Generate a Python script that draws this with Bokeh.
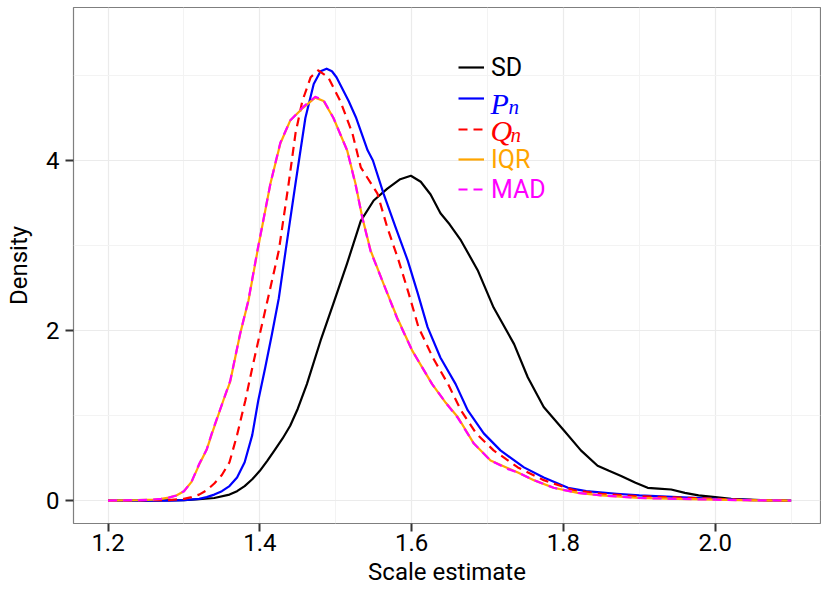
from bokeh.plotting import figure
from bokeh.models import (Range1d, FixedTicker, Legend, LegendItem, Label,
                          CustomJSTickFormatter)
from bokeh.embed import file_html
from bokeh.resources import INLINE

# ---------------- data ----------------
sd_x = [1.20, 1.25, 1.30, 1.32, 1.34, 1.36, 1.37, 1.38, 1.39, 1.40, 1.41,
        1.42, 1.43, 1.44, 1.45, 1.462, 1.48, 1.497, 1.515, 1.533, 1.55,
        1.568, 1.585, 1.599, 1.612, 1.625, 1.638, 1.65, 1.665, 1.687, 1.708,
        1.735, 1.753, 1.774, 1.801, 1.823, 1.845, 1.86, 1.876, 1.895, 1.911,
        1.925, 1.942, 1.96, 1.978, 2.00, 2.021, 2.06, 2.10]
sd_y = [0.0, 0.0, 0.005, 0.015, 0.03, 0.07, 0.11, 0.17, 0.25, 0.35, 0.47,
        0.60, 0.73, 0.88, 1.08, 1.37, 1.88, 2.32, 2.79, 3.29, 3.53,
        3.67, 3.78, 3.82, 3.75, 3.60, 3.38, 3.25, 3.06, 2.71, 2.27,
        1.84, 1.45, 1.10, 0.82, 0.59, 0.41, 0.35, 0.29, 0.21, 0.15,
        0.14, 0.13, 0.09, 0.06, 0.04, 0.02, 0.005, 0.0]

pn_x = [1.20, 1.28, 1.30, 1.32, 1.33, 1.34, 1.35, 1.36, 1.37, 1.38, 1.39,
        1.398, 1.407, 1.416, 1.425, 1.434, 1.447, 1.46, 1.471, 1.48, 1.488,
        1.495, 1.501, 1.517, 1.527, 1.542, 1.549, 1.563, 1.579, 1.595, 1.608,
        1.621, 1.638, 1.658, 1.674, 1.695, 1.717, 1.748, 1.774, 1.806, 1.83,
        1.87, 1.90, 1.95, 2.00, 2.05, 2.10]
pn_y = [0.0, 0.0, 0.005, 0.02, 0.04, 0.07, 0.11, 0.17, 0.27, 0.45, 0.77,
        1.18, 1.56, 1.96, 2.38, 2.94, 3.73, 4.50, 4.90, 5.05, 5.08,
        5.05, 4.98, 4.70, 4.50, 4.12, 4.00, 3.61, 3.21, 2.82, 2.44,
        2.04, 1.68, 1.37, 1.06, 0.79, 0.59, 0.39, 0.27, 0.15, 0.11,
        0.08, 0.06, 0.04, 0.02, 0.005, 0.0]

qn_x = [1.20, 1.28, 1.30, 1.31, 1.32, 1.33, 1.34, 1.35, 1.36, 1.37, 1.381,
        1.39, 1.40, 1.41, 1.425, 1.438, 1.447, 1.456, 1.467, 1.477, 1.49,
        1.506, 1.522, 1.533, 1.555, 1.568, 1.583, 1.596, 1.609, 1.628, 1.648,
        1.665, 1.685, 1.708, 1.74, 1.774, 1.814, 1.85, 1.90, 2.00, 2.05, 2.10]
qn_y = [0.0, 0.005, 0.02, 0.04, 0.07, 0.12, 0.20, 0.30, 0.45, 0.77, 1.18,
        1.56, 1.96, 2.35, 2.94, 3.73, 4.32, 4.70, 4.98, 5.06, 4.98,
        4.70, 4.32, 3.92, 3.61, 3.21, 2.82, 2.44, 2.04, 1.68, 1.37,
        1.06, 0.79, 0.59, 0.39, 0.24, 0.12, 0.08, 0.05, 0.02, 0.005, 0.0]

iqr_x = [1.20, 1.24, 1.26, 1.27, 1.28, 1.29, 1.30, 1.31, 1.32, 1.33, 1.337,
         1.352, 1.361, 1.374, 1.385, 1.397, 1.414, 1.427, 1.44, 1.457, 1.473,
         1.484, 1.497, 1.515, 1.526, 1.535, 1.546, 1.563, 1.581, 1.601, 1.627,
         1.645, 1.661, 1.682, 1.704, 1.727, 1.74, 1.761, 1.787, 1.819, 1.85,
         1.90, 1.95, 2.00, 2.05, 2.10]
iqr_y = [0.0, 0.005, 0.012, 0.02, 0.035, 0.06, 0.11, 0.22, 0.42, 0.60, 0.79,
         1.18, 1.40, 1.96, 2.35, 2.94, 3.73, 4.20, 4.47, 4.62, 4.74,
         4.70, 4.50, 4.12, 3.73, 3.33, 2.94, 2.55, 2.15, 1.76, 1.37,
         1.15, 0.98, 0.67, 0.47, 0.38, 0.33, 0.24, 0.15, 0.09, 0.06,
         0.03, 0.02, 0.01, 0.003, 0.0]

mad_x = [1.20, 1.24, 1.26, 1.27, 1.28, 1.29, 1.30, 1.31, 1.32, 1.33, 1.337,
         1.352, 1.361, 1.374, 1.385, 1.397, 1.414, 1.427, 1.44, 1.457, 1.473,
         1.484, 1.497, 1.515, 1.526, 1.535, 1.546, 1.563, 1.581, 1.601, 1.627,
         1.645, 1.661, 1.682, 1.704, 1.727, 1.74, 1.761, 1.787, 1.819, 1.85,
         1.90, 1.95, 2.00, 2.05, 2.10]
mad_y = [0.0, 0.005, 0.012, 0.02, 0.035, 0.06, 0.11, 0.22, 0.43, 0.60, 0.80,
         1.18, 1.41, 1.96, 2.36, 2.95, 3.73, 4.21, 4.47, 4.63, 4.75,
         4.71, 4.50, 4.12, 3.72, 3.33, 2.93, 2.55, 2.14, 1.76, 1.37,
         1.15, 0.97, 0.67, 0.47, 0.37, 0.33, 0.24, 0.15, 0.09, 0.06,
         0.03, 0.02, 0.01, 0.003, 0.0]

x_ticks = [1.2, 1.4, 1.6, 1.8, 2.0]
x_minor = [1.3, 1.5, 1.7, 1.9, 2.1]
y_ticks = [0, 2, 4]
y_minor = [1, 3, 5]

FONT = "Roboto"

p = figure(width=821, height=592, output_backend="svg", toolbar_location=None,
           x_range=Range1d(1.1545, 2.1387), y_range=Range1d(-0.27, 5.8),
           min_border_left=73, min_border_right=1, min_border_top=7,
           min_border_bottom=69)
p.background_fill_color = "white"
p.border_fill_color = "white"
p.outline_line_color = "#7f7f7f"
p.outline_line_width = 1.2

# axes
p.xaxis.ticker = FixedTicker(ticks=x_ticks, minor_ticks=x_minor)
p.yaxis.ticker = FixedTicker(ticks=y_ticks, minor_ticks=y_minor)
p.xaxis.formatter = CustomJSTickFormatter(code="return tick.toFixed(1);")
p.yaxis.formatter = CustomJSTickFormatter(code="return tick.toFixed(0);")
for ax in (p.xaxis, p.yaxis):
    ax.axis_line_color = None
    ax.major_tick_line_color = "#333333"
    ax.major_tick_line_width = 2
    ax.major_tick_in = 0
    ax.major_tick_out = 8
    ax.minor_tick_line_color = None
    ax.major_label_text_font = FONT
    ax.major_label_text_font_size = "24px"
    ax.major_label_text_color = "black"
    ax.axis_label_text_font = FONT
    ax.axis_label_text_font_size = "24px"
    ax.axis_label_text_font_style = "normal"
    ax.axis_label_text_color = "black"
p.xaxis.axis_label = "Scale estimate"
p.yaxis.axis_label = "Density"
p.xaxis.major_label_standoff = 2
p.xaxis.axis_label_standoff = 4
p.yaxis.major_label_standoff = 6
p.yaxis.axis_label_standoff = 10

# grid
for g in (p.xgrid, p.ygrid):
    g.grid_line_color = "#ebebeb"
    g.grid_line_width = 1.2
    g.minor_grid_line_color = "#f3f3f3"
    g.minor_grid_line_width = 1

LW = 2.2
DASH = "9 6"
r_sd = p.line(sd_x, sd_y, line_color="black", line_width=LW, line_join="round")
r_pn = p.line(pn_x, pn_y, line_color="#0000ff", line_width=LW, line_join="round")
r_qn = p.line(qn_x, qn_y, line_color="#ff0000", line_width=LW, line_dash=DASH,
              line_join="round")
r_iqr = p.line(iqr_x, iqr_y, line_color="#ffa500", line_width=LW, line_join="round")
r_mad = p.line(mad_x, mad_y, line_color="#ff00ff", line_width=LW, line_dash=DASH,
               line_join="round")

# legend: one small legend per entry so that each label has its own colour
entries = [("SD", r_sd, "black"), (" ", r_pn, "#0000ff"), (" ", r_qn, "#ff0000"),
           ("IQR", r_iqr, "#ffa500"), ("MAD", r_mad, "#ff00ff")]
row_bottom = [440, 409, 378, 348, 318]
for (lab, rend, col), yb in zip(entries, row_bottom):
    leg = Legend(items=[LegendItem(label=lab, renderers=[rend])],
                 location=(385, yb), orientation="vertical",
                 border_line_color=None, background_fill_alpha=0,
                 padding=0, margin=0, spacing=0,
                 glyph_width=26, glyph_height=32, label_height=32,
                 label_standoff=7,
                 label_text_font=FONT, label_text_font_size="25px",
                 label_text_color=col)
    p.add_layout(leg)

# math labels P_n and Q_n
def math(text, x, y, size, col):
    p.add_layout(Label(x=x, y=y, x_units="screen", y_units="screen", text=text,
                       text_font="Liberation Serif", text_font_style="italic",
                       text_font_size=size, text_color=col,
                       text_baseline="alphabetic", text_align="left"))

math("P", 417, 420, "30px", "#0000ff")
math("n", 435, 417, "21px", "#0000ff")
math("Q", 417, 393, "30px", "#ff0000")
math("n", 437, 388.5, "21px", "#ff0000")

open("out.html", "w").write(file_html(p, INLINE))
